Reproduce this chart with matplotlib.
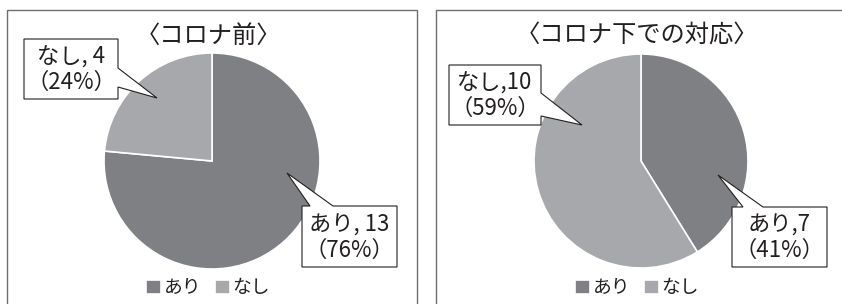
import matplotlib
matplotlib.use("Agg")
import matplotlib.pyplot as plt
from matplotlib.patches import Polygon, Rectangle

plt.rcParams['font.family'] = ['Noto Sans CJK JP', 'DejaVu Sans']

# data
categories = ['あり', 'なし']
before_counts = [13, 4]
during_counts = [7, 10]
titles = ['〈コロナ前〉', '〈コロナ下での対応〉']
label_seps = [', ', ',']

colors = ['#7f8084', '#a7a8ab']
text_color = '#231f20'

W, H = 842, 304
fig = plt.figure(figsize=(W / 100, H / 100), dpi=100)

# overlay axes in pixel coordinates (y down)
ov = fig.add_axes([0, 0, 1, 1], zorder=5)
ov.set_xlim(0, W)
ov.set_ylim(H, 0)
ov.axis('off')
ov.patch.set_alpha(0)

# panel layout: frame (x0, y0, x1), pie centre, radius, title x
panels = [
    dict(frame=(7, 10, 417), cx=212, cy=161, r=108, tx=208, lx=208),
    dict(frame=(436, 10, 850), cx=641, cy=161, r=107, tx=637, lx=637),
]
# callouts: box (x0, y0, x1, y1), side of tail, tail base, tip
callouts = [
    [dict(box=(302, 206, 397, 267), side='top', base=(310, 333), tip=(287, 173)),
     dict(box=(24, 39, 118, 99), side='right', base=(68, 87), tip=(157, 98))],
    [dict(box=(732, 207, 827, 267), side='top', base=(743, 763), tip=(718, 175)),
     dict(box=(449, 65, 541, 125), side='right', base=(93, 116), tip=(582, 125))],
]


def callout_poly(box, side, base, tip):
    x0, y0, x1, y1 = box
    a, b = base
    if side == 'right':
        return [(x0, y0), (x1, y0), (x1, a), tip, (x1, b), (x1, y1), (x0, y1)]
    return [(x0, y0), (a, y0), tip, (b, y0), (x1, y0), (x1, y1), (x0, y1)]


for i, counts in enumerate([before_counts, during_counts]):
    p = panels[i]
    fx0, fy0, fx1 = p['frame']
    ov.add_patch(Rectangle((fx0, fy0), fx1 - fx0, H + 20 - fy0, fill=False,
                           ec='#6d6e71', lw=1.0))

    cx, cy, r = p['cx'], p['cy'], p['r']
    ax = fig.add_axes([(cx - r) / W, (H - cy - r) / H, 2 * r / W, 2 * r / H])
    wedges, _ = ax.pie(counts, colors=colors, startangle=90, counterclock=False,
                       wedgeprops=dict(edgecolor='white', linewidth=1.2))
    ax.set_xlim(-1, 1)
    ax.set_ylim(-1, 1)

    ov.text(p['tx'], 36, titles[i], ha='center', va='center', fontsize=17.5,
            color=text_color)

    total = sum(counts)
    for j, c in enumerate(counts):
        co = callouts[i][j]
        ov.add_patch(Polygon(callout_poly(co['box'], co['side'], co['base'], co['tip']),
                             closed=True, fc='white', ec=text_color, lw=0.8))
        x0, y0, x1, y1 = co['box']
        pct = round(100 * c / total)
        txt = f"{categories[j]}{label_seps[i]}{c}\n（{pct}%）"
        ov.text((x0 + x1) / 2, (y0 + y1) / 2 + 1, txt, ha='center', va='center',
                fontsize=16, color=text_color, linespacing=1.1)

    ov.legend(wedges, categories, loc='center', ncol=2, frameon=False,
              bbox_to_anchor=(p['lx'] / W, 1 - 288 / H), bbox_transform=fig.transFigure,
              handlelength=0.8, handleheight=0.8, handletextpad=0.15,
              columnspacing=0.7, fontsize=13.5, labelcolor=text_color)
    if i == 0:
        ov.add_artist(ov.get_legend())

fig.savefig('out.png', dpi=100)
